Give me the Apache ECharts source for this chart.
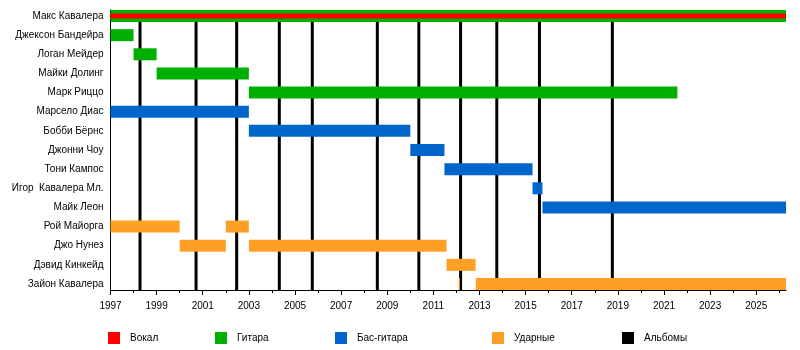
<!DOCTYPE html>
<html>
<head>
<meta charset="utf-8">
<script src="https://cdn.jsdelivr.net/npm/echarts@6/dist/echarts.min.js"></script>
<style>
  html, body { margin: 0; padding: 0; background: #fff; }
  #chart { width: 800px; height: 350px; }
</style>
</head>
<body>
<div id="chart"></div>
<script>
// Band members, top to bottom
const members = [
  'Макс Кавалера',
  'Джексон Бандейра',
  'Логан Мейдер',
  'Майки Долинг',
  'Марк Риццо',
  'Марсело Диас',
  'Бобби Бёрнс',
  'Джонни Чоу',
  'Тони Кампос',
  'Игор  Кавалера Мл.',
  'Майк Леон',
  'Рой Майорга',
  'Джо Нунез',
  'Дэвид Кинкейд',
  'Зайон Кавалера'
];

const yearStart = 1997;
const yearEnd = 2026.29;
const yearLabels = [1997, 1999, 2001, 2003, 2005, 2007, 2009, 2011, 2013, 2015, 2017, 2019, 2021, 2023, 2025];
const yearTicks = [1997, 1998, 1999, 2000, 2001, 2002, 2003, 2004, 2005, 2006, 2007, 2008, 2009, 2010, 2011,
                   2012, 2013, 2014, 2015, 2016, 2017, 2018, 2019, 2020, 2021, 2022, 2023, 2024, 2025, 2026];

// Stints per role: [member row, from, till]
const vocals = [[0, 1997, 2026.29]];
const guitar = [
  [0, 1997, 2026.29],
  [1, 1997, 1998],
  [2, 1998, 1999],
  [3, 1999, 2003],
  [4, 2003, 2021.58]
];
const bass = [
  [5, 1997, 2003],
  [6, 2003, 2010],
  [7, 2010, 2011.48],
  [8, 2011.48, 2015.3],
  [9, 2015.3, 2015.73],
  [10, 2015.73, 2026.29]
];
const drums = [
  [11, 1997, 2000],
  [11, 2002, 2003],
  [12, 2000, 2002],
  [12, 2003, 2011.57],
  [13, 2011.57, 2012.83],
  [14, 2012.1, 2012.15],
  [14, 2012.84, 2026.29]
];
// Studio album release dates
const albums = [1998.28, 2000.71, 2002.47, 2004.32, 2005.75, 2008.57, 2010.37, 2012.18, 2013.75, 2015.6, 2018.76];

const BAR_H = 12;
const VOCAL_H = 5;
const FONT = '"Liberation Sans", Arial, sans-serif';

function barRenderer(heightPx) {
  return function (params, api) {
    const row = api.value(0);
    const a = api.coord([api.value(1), row]);
    const b = api.coord([api.value(2), row]);
    return {
      type: 'rect',
      shape: { x: a[0], y: a[1] - heightPx / 2, width: b[0] - a[0], height: heightPx },
      style: { fill: api.visual('color') }
    };
  };
}

function albumRenderer(params, api) {
  const x = api.coord([api.value(0), 0])[0];
  const cs = params.coordSys;
  return {
    type: 'rect',
    shape: { x: x - 1.5, y: cs.y, width: 3, height: cs.height },
    style: { fill: api.visual('color') }
  };
}

function roleSeries(name, color, data, heightPx, z) {
  return {
    name: name,
    type: 'custom',
    renderItem: barRenderer(heightPx),
    itemStyle: { color: color },
    encode: { x: [1, 2], y: 0 },
    data: data,
    z: z,
    silent: true
  };
}

const colors = {
  vocals: '#FF0000',
  guitar: '#00B000',
  bass: '#0066CC',
  drums: '#FFA026',
  albums: '#000000'
};

const legendLefts = [108, 215, 335, 492, 622];
const legendNames = ['Вокал', 'Гитара', 'Бас-гитара', 'Ударные', 'Альбомы'];

const chart = echarts.init(document.getElementById('chart'), null, { renderer: 'canvas' });
chart.setOption({
  animation: false,
  backgroundColor: '#fff',
  textStyle: { fontFamily: FONT },
  grid: { left: 110.5, right: 14, top: 10, bottom: 60 },
  legend: legendNames.map((n, i) => ({
    data: [n],
    left: legendLefts[i],
    top: 332,
    padding: 0,
    icon: 'rect',
    itemWidth: 12,
    itemHeight: 12,
    selectedMode: false,
    textStyle: { color: '#000', fontSize: 10, fontFamily: FONT, padding: [0, 0, 0, 5] }
  })),
  xAxis: [
    {
      type: 'value',
      min: yearStart,
      max: yearEnd,
      position: 'bottom',
      axisLine: { onZero: false, lineStyle: { color: '#000', width: 1 } },
      axisTick: { customValues: yearLabels, length: 5, lineStyle: { color: '#000' } },
      axisLabel: { customValues: yearLabels, formatter: v => String(v), color: '#000', fontSize: 10, margin: 11, fontFamily: FONT },
      splitLine: { show: false }
    },
    {
      type: 'value',
      min: yearStart,
      max: yearEnd,
      position: 'bottom',
      axisLine: { show: false, onZero: false },
      axisTick: { customValues: yearTicks, length: 3, lineStyle: { color: '#000' } },
      axisLabel: { show: false },
      splitLine: { show: false }
    }
  ],
  yAxis: {
    type: 'value',
    inverse: true,
    min: -0.3135,
    max: 14.3135,
    axisLine: { show: true, onZero: false, lineStyle: { color: '#000', width: 1 } },
    axisTick: { show: false },
    splitLine: { show: false },
    axisLabel: {
      customValues: members.map((_, i) => i),
      formatter: v => members[v],
      color: '#000',
      fontSize: 10,
      margin: 7,
      fontFamily: FONT
    }
  },
  series: [
    {
      name: 'Альбомы',
      type: 'custom',
      renderItem: albumRenderer,
      itemStyle: { color: colors.albums },
      encode: { x: 0 },
      data: albums.map(y => [y]),
      z: 1,
      silent: true
    },
    roleSeries('Гитара', colors.guitar, guitar, BAR_H, 2),
    roleSeries('Бас-гитара', colors.bass, bass, BAR_H, 2),
    roleSeries('Ударные', colors.drums, drums, BAR_H, 2),
    roleSeries('Вокал', colors.vocals, vocals, VOCAL_H, 3)
  ]
});
</script>
</body>
</html>
